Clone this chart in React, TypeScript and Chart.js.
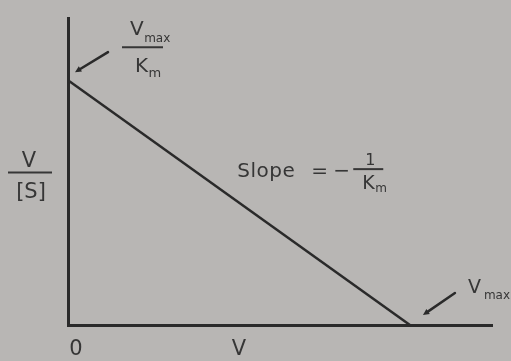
import React, { useEffect, useRef } from "react";
import { Chart, registerables } from "chart.js";

Chart.register(...registerables);

// Eadie–Hofstee plot: V/[S] against V
const velocity = [0, 10]; // V
const velocityOverSubstrate = [5, 0]; // V/[S]
const xMax = 12.4;
const yMax = 6.27;

const BG = "#b8b6b4";
const INK = "#2a2a2a";
const TEXT = "#363636";
const FONT = "'DejaVu Sans', 'Liberation Sans', sans-serif";

function arrow(ctx: CanvasRenderingContext2D, x1: number, y1: number, x2: number, y2: number) {
  ctx.save();
  ctx.strokeStyle = INK;
  ctx.fillStyle = INK;
  ctx.lineWidth = 2.5;
  ctx.lineCap = "round";
  const a = Math.atan2(y2 - y1, x2 - x1);
  const head = 7;
  ctx.beginPath();
  ctx.moveTo(x1, y1);
  ctx.lineTo(x2 - Math.cos(a) * head * 0.6, y2 - Math.sin(a) * head * 0.6);
  ctx.stroke();
  ctx.beginPath();
  ctx.moveTo(x2, y2);
  ctx.lineTo(x2 - head * Math.cos(a - 0.45), y2 - head * Math.sin(a - 0.45));
  ctx.lineTo(x2 - head * Math.cos(a + 0.45), y2 - head * Math.sin(a + 0.45));
  ctx.closePath();
  ctx.fill();
  ctx.restore();
}

// main letter followed by a smaller subscript, starting at left
function subText(
  ctx: CanvasRenderingContext2D,
  left: number,
  base: number,
  main: string,
  sub: string,
  size: number,
  subSize: number,
  drop: number
) {
  ctx.textAlign = "left";
  ctx.font = `${size}px ${FONT}`;
  ctx.fillText(main, left, base);
  const w1 = ctx.measureText(main).width;
  ctx.font = `${subSize}px ${FONT}`;
  ctx.fillText(sub, left + w1 + 0.5, base + drop);
}

const labelsPlugin = {
  id: "plotLabels",
  afterDraw(chart: any) {
    const ctx: CanvasRenderingContext2D = chart.ctx;
    const x = chart.scales.x;
    const y = chart.scales.y;
    const ox = x.getPixelForValue(0);
    const oy = y.getPixelForValue(0);
    const iy = y.getPixelForValue(velocityOverSubstrate[0]);
    const ix = x.getPixelForValue(velocity[1]);
    ctx.save();
    ctx.fillStyle = TEXT;
    ctx.strokeStyle = TEXT;
    ctx.textBaseline = "alphabetic";

    // Vmax / Km intercept label
    const fx = ox + 74;
    const barY = iy - 33;
    subText(ctx, fx - 12, barY - 12, "V", "max", 20, 12, 7);
    ctx.lineWidth = 2;
    ctx.beginPath();
    ctx.moveTo(fx - 20, barY);
    ctx.lineTo(fx + 21, barY);
    ctx.stroke();
    subText(ctx, fx - 7, barY + 25, "K", "m", 20, 13, 5);
    arrow(ctx, ox + 40, iy - 28, ox + 7, iy - 8);

    // y-axis title V / [S]
    const my = (chart.chartArea.top + chart.chartArea.bottom) / 2;
    const ycx = ox - 38;
    ctx.textAlign = "center";
    ctx.font = `21px ${FONT}`;
    ctx.fillText("V", ycx - 1, my - 5);
    ctx.lineWidth = 2;
    ctx.beginPath();
    ctx.moveTo(ycx - 22, my + 1);
    ctx.lineTo(ycx + 22, my + 1);
    ctx.stroke();
    ctx.fillText("[S]", ycx + 1, my + 26);

    // slope label
    const sx = x.getPixelForValue(4.95);
    const sy = y.getPixelForValue(3.02);
    ctx.textAlign = "left";
    ctx.font = `20px ${FONT}`;
    ctx.letterSpacing = "0.5px";
    ctx.fillText("Slope", sx, sy);
    ctx.letterSpacing = "0px";
    ctx.fillText("=", sx + 74, sy);
    ctx.fillText("\u2212", sx + 96, sy);
    const scx = sx + 131;
    ctx.textAlign = "center";
    ctx.font = `16px ${FONT}`;
    ctx.fillText("1", scx + 2, sy - 12);
    ctx.lineWidth = 2;
    ctx.beginPath();
    ctx.moveTo(scx - 15, sy - 8);
    ctx.lineTo(scx + 15, sy - 8);
    ctx.stroke();
    subText(ctx, scx - 6, sy + 12, "K", "m", 19, 12, 3);

    // Vmax intercept label
    ctx.textAlign = "left";
    ctx.font = `19px ${FONT}`;
    ctx.fillText("V", ix + 58, oy - 32);
    const vw = ctx.measureText("V").width;
    ctx.font = `12px ${FONT}`;
    ctx.fillText("max", ix + 61 + vw, oy - 26);
    arrow(ctx, ix + 45, oy - 32, ix + 13, oy - 10);

    // x-axis labels
    ctx.textAlign = "center";
    ctx.font = `21px ${FONT}`;
    ctx.fillText("0", ox + 8, oy + 30);
    ctx.fillText("V", x.getPixelForValue(5), oy + 30);
    ctx.restore();
  },
};

const bgPlugin = {
  id: "paper",
  beforeDraw(chart: any) {
    const ctx = chart.ctx;
    ctx.save();
    ctx.fillStyle = BG;
    ctx.fillRect(0, 0, chart.width, chart.height);
    ctx.restore();
  },
};

export default function App() {
  const ref = useRef<HTMLCanvasElement>(null);
  useEffect(() => {
    if (!ref.current) return;
    const chart = new Chart(ref.current, {
      type: "scatter",
      data: {
        datasets: [
          {
            data: velocity.map((v, i) => ({ x: v, y: velocityOverSubstrate[i] })),
            showLine: true,
            borderColor: INK,
            borderWidth: 2.5,
            pointRadius: 0,
          },
        ],
      },
      options: {
        animation: false,
        responsive: false,
        layout: { padding: { left: 68, right: 19, top: 18, bottom: 36 } },
        plugins: { legend: { display: false }, tooltip: { enabled: false } },
        scales: {
          x: {
            type: "linear",
            min: 0,
            max: xMax,
            grid: { display: false },
            ticks: { display: false },
            border: { display: true, color: INK, width: 3 },
            afterFit: (s: any) => { s.height = 0; },
          },
          y: {
            type: "linear",
            min: 0,
            max: yMax,
            grid: { display: false },
            ticks: { display: false },
            border: { display: true, color: INK, width: 3 },
            afterFit: (s: any) => { s.width = 0; },
          },
        },
      },
      plugins: [bgPlugin, labelsPlugin],
    });
    return () => chart.destroy();
  }, []);
  return (
    <div style={{ position: "fixed", left: 0, top: 0, width: 511, height: 361, background: BG }}>
      <canvas ref={ref} width={511} height={361} style={{ display: "block" }} />
    </div>
  );
}
